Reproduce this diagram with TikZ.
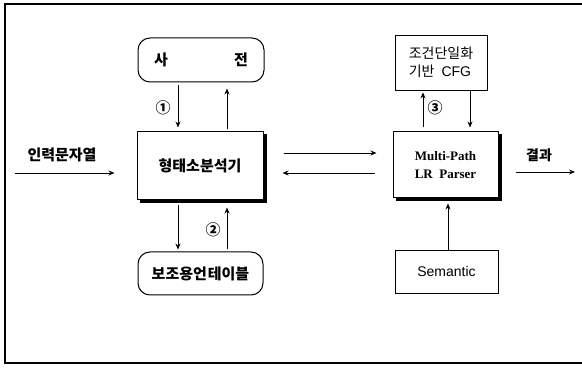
\documentclass[tikz,border=0pt]{standalone}
\usepackage{fontspec}
\setmainfont{Liberation Serif}
\newfontfamily\kr{Noto Sans CJK KR}
\newfontfamily\lsans{Liberation Sans}
\usetikzlibrary{arrows.meta,calc}
\begin{document}
\begin{tikzpicture}[x=1pt,y=-1pt,
  arr/.style={-{Stealth[length=6pt,width=5pt]},line width=0.9pt},
  rbox/.style={draw,line width=1pt,rounded corners=12pt,minimum width=126pt,minimum height=44pt,inner sep=0pt},
  sbox/.style={draw,line width=1pt,fill=white,inner sep=0pt},
  shadow/.style={line width=3pt},
  pbox/.style={draw,line width=0.8pt,inner sep=0pt},
  krb/.style={font=\kr\bfseries\fontsize{15}{17}\selectfont},
  lbl/.style={inner sep=0pt}]
\useasboundingbox (0,0) rectangle (582,374);
% frame
\draw[line width=1.2pt] (582,4) -- (5,4) -- (5,363) -- (582,363);
% nodes
\node[rbox,krb,text width=94pt,align=left] (dict) at (201,60) {사\hfill 전};
\node[sbox,krb,minimum width=126pt,minimum height=68pt] (anal) at (200,166) {형태소분석기};
\node[rbox,krb,minimum width=125pt,minimum height=43pt] (aux) at (200.5,273.5) {보조용언\hspace{1pt}테이블};
\node[sbox,minimum width=105pt,minimum height=66pt,align=center,font=\bfseries\fontsize{13}{18}\selectfont] (parser) at (445.5,165) {Multi-Path\\LR\ \ Parser};
\node[pbox,minimum width=92pt,minimum height=55pt,align=left,font=\kr\fontsize{14}{18}\selectfont] (cfg) at (441,62.5) {조건단일화\\기반\hspace{7pt}{\lsans CFG}};
\node[pbox,minimum width=103pt,minimum height=43pt,font=\lsans\fontsize{14}{16}\selectfont] (sem) at (446.5,271.5) {Semantic};
\node[lbl,krb] (inlbl) at (62,155) {인력문자열};
\node[lbl,krb,font=\kr\bfseries\fontsize{14}{16}\selectfont] (outlbl) at (539,155) {결과};
\node[lbl,krb] (c1) at (163,108) {①};
\node[lbl,krb] (c2) at (213,230) {②};
\node[lbl,krb] (c3) at (435,108) {③};
% shadows
\draw[shadow] ($(anal.north east)+(1.5,3)$) -- ($(anal.south east)+(1.5,1.5)$) -- ($(anal.south west)+(3,1.5)$);
\draw[shadow] ($(parser.north east)+(1.5,3)$) -- ($(parser.south east)+(1.5,1.5)$) -- ($(parser.south west)+(3,1.5)$);
\coordinate (inS) at (15,173);
\coordinate (outE) at (575,172);
% dict <-> analyzer
\draw[arr,shorten <=3pt,shorten >=4pt] ($(dict.south)+(-23,0)$) -- ($(anal.north)+(-22,0)$);
\draw[arr,shorten <=2pt,shorten >=6pt] ($(anal.north)+(27,0)$) -- ($(dict.south)+(26,0)$);
% analyzer <-> aux
\draw[arr,shorten <=5pt,shorten >=2pt] ($(anal.south)+(-22,0)$) -- ($(aux.north)+(-22.5,0)$);
\draw[arr,shorten <=2pt,shorten >=7pt] ($(aux.north)+(26.5,0)$) -- ($(anal.south)+(27,0)$);
% input
\draw[arr,shorten >=22pt] (inS) -- (inS -| anal.west);
% analyzer <-> parser
\draw[arr,shorten <=20pt,shorten >=16pt] ($(anal.east)+(0,-13)$) -- ($(parser.west)+(0,-12)$);
\draw[arr,shorten <=18pt,shorten >=19pt] ($(parser.west)+(0,8)$) -- ($(anal.east)+(0,7)$);
% parser <-> cfg
\draw[arr,shorten <=4pt,shorten >=2pt] ($(parser.north)+(-22.5,0)$) -- ($(cfg.south)+(-18,0)$);
\draw[arr,shorten <=0pt,shorten >=4pt] ($(cfg.south)+(29,0)$) -- ($(parser.north)+(24.5,0)$);
% semantic -> parser
\draw[arr,shorten >=5pt] ($(sem.north)+(1.5,0)$) -- ($(parser.south)+(2.5,0)$);
% output
\draw[arr,shorten <=17pt] (parser.east |- outE) -- (outE);
\end{tikzpicture}
\end{document}
